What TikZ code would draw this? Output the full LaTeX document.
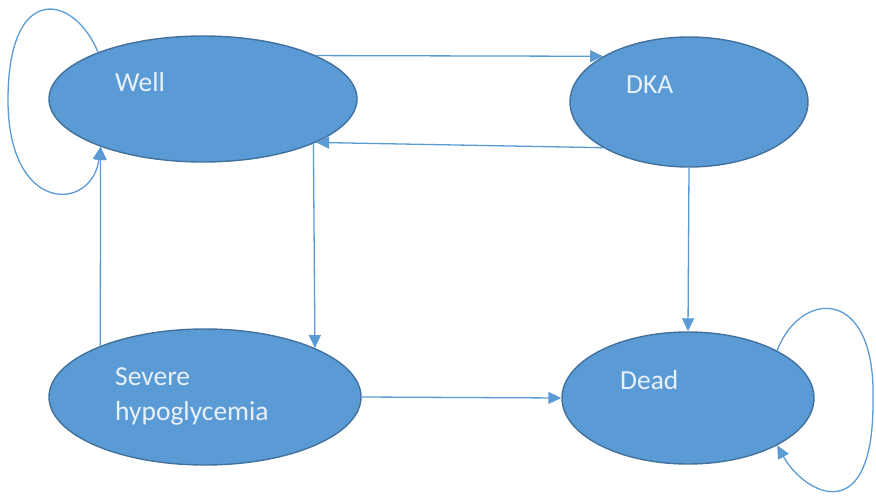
\documentclass[tikz,border=0pt]{standalone}
\usepackage{fontspec}
\setmainfont{Carlito}
\usetikzlibrary{shapes,arrows.meta}
\definecolor{fillblue}{RGB}{91,155,213}
\definecolor{edgeblue}{RGB}{65,113,156}
\definecolor{paletext}{RGB}{232,241,250}
\tikzset{
  healthstate/.style={ellipse, draw=edgeblue, line width=1.4pt, fill=fillblue, inner sep=0pt},
  statetext/.style={inner sep=0pt, text=paletext, font=\fontsize{27.5}{35}\selectfont, align=left},
  link/.style={draw=fillblue, line width=1.3pt, -{Triangle[length=13pt,width=12pt]}}
}
\begin{document}
\begin{tikzpicture}[x=1pt,y=1pt]
         \useasboundingbox (0,0) rectangle (876,-497);
         \node [healthstate, minimum width=308pt, minimum height=126pt] (Well) at (203,-99) {};
         \node [healthstate, minimum width=238pt, minimum height=130pt] (DKA) at (689,-102) {};
         \node [healthstate, minimum width=312pt, minimum height=136pt] (Hypo) at (205,-397) {};
         \node [healthstate, minimum width=252pt, minimum height=132pt] (Dead) at (688,-398) {};
         \node [statetext, anchor=base west] (WellText) at (115,-92) {Well};
         \node [statetext, anchor=base west] (DKAText) at (626,-94) {DKA};
         \node [statetext, anchor=base west] (HypoText) at (115,-420) {Severe\\hypoglycemia};
         \node [statetext, anchor=base west] (DeadText) at (620,-389) {Dead};
         \draw [link] (Well.21) -- (DKA.152);
         \draw [link] (DKA.208) -- (Well.339);
         \draw [link] (Well.338) -- (Hypo.24);
         \draw [link] (Hypo.154) -- (Well.205);
         \draw [link] (DKA.south) -- (Dead.north);
         \draw [link] (Hypo.east) -- (Dead.west);
         % self loops
         \draw [link] (Well.156) .. controls (75,5) and (8,20) .. (8,-100)
                  .. controls (8,-215) and (92,-212) .. (Well.205);
         \draw [link] (Dead.28) .. controls (800,-290) and (876,-285) .. (873,-400)
                  .. controls (874,-530) and (805,-495) .. (Dead.332);
 \end{tikzpicture}
\end{document}
